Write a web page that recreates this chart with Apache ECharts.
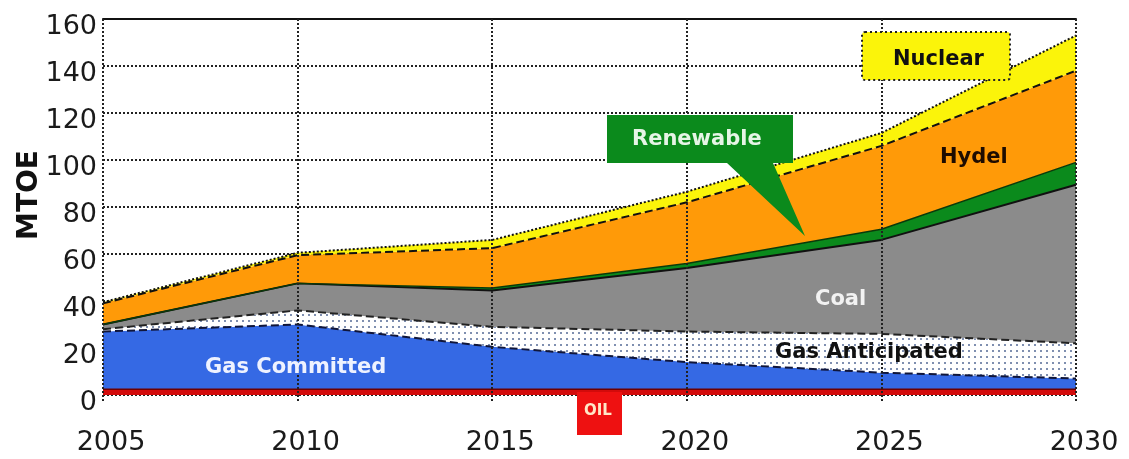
<!DOCTYPE html>
<html>
<head>
<meta charset="utf-8">
<script src="https://cdn.jsdelivr.net/npm/echarts@6/dist/echarts.min.js"></script>
<style>
  html, body { margin: 0; padding: 0; background: #fff; }
  #chart { width: 1129px; height: 459px; }
</style>
</head>
<body>
<div id="chart"></div>
<script>
// Primary energy supply projection, MTOE, stacked by source
const years = ['2005', '2010', '2015', '2020', '2025', '2030'];
const oil            = [2.5, 2.5, 2.5, 2.5, 2.5, 2.5];
const gasCommitted   = [24.5, 27.5, 18, 11.5, 7, 4.5];
const gasAnticipated = [1, 6, 8.5, 13, 16.5, 15];
const coal           = [2, 11.5, 15.5, 27, 40, 67.5];
const renewable      = [0, 0, 1, 2, 4.5, 9.5];
const hydel          = [9, 12, 17, 26, 35.5, 39];
const nuclear        = [0.5, 1, 3.5, 4.5, 5.5, 15];
const yTicks = { min: 0, max: 160, interval: 20 };

// dotted fill for the anticipated gas band
function dotPattern() {
  const c = document.createElement('canvas');
  c.width = 6; c.height = 6;
  const g = c.getContext('2d');
  g.fillStyle = '#ffffff';
  g.fillRect(0, 0, 6, 6);
  g.fillStyle = '#7f8fb0';
  g.fillRect(2, 2, 2, 2);
  return c;
}

const chart = echarts.init(document.getElementById('chart'), null, { renderer: 'canvas' });

function layer(name, data, fill, line) {
  return {
    name: name,
    type: 'line',
    stack: 'total',
    data: data,
    symbol: 'none',
    smooth: false,
    lineStyle: line,
    areaStyle: { color: fill, opacity: 1 },
    emphasis: { disabled: true }
  };
}

const tickFont = { fontFamily: 'DejaVu Sans', fontSize: 27, color: '#1a1a1a' };
const tagFont = 'bold 21px "DejaVu Sans"';

chart.setOption({
  animation: false,
  backgroundColor: '#ffffff',
  grid: { left: 103, right: 53, top: 19, bottom: 64 },
  xAxis: [{
    type: 'category',
    data: years,
    boundaryGap: false,
    axisLine: { show: false },
    axisTick: { show: true, length: 8, lineStyle: { color: '#222', type: 'dotted', width: 2 } },
    axisLabel: Object.assign({ margin: 34, padding: [0, 0, 0, 16] }, tickFont),
    splitLine: { show: true, lineStyle: { color: '#222', type: 'dotted', width: 2 } },
    z: 5
  }, {
    type: 'category',
    data: years,
    position: 'top',
    boundaryGap: false,
    axisLine: { show: true, lineStyle: { color: '#111', width: 2 } },
    axisTick: { show: false },
    axisLabel: { show: false },
    splitLine: { show: false }
  }],
  yAxis: {
    type: 'value',
    min: yTicks.min,
    max: yTicks.max,
    interval: yTicks.interval,
    axisLine: { show: false },
    axisTick: { show: false },
    axisLabel: Object.assign({ margin: 6, verticalAlign: 'top', lineHeight: 16 }, tickFont),
    splitLine: { show: true, lineStyle: { color: '#222', type: 'dotted', width: 2 } }
  },
  series: [
    layer('Oil', oil, '#d30b0b', { color: '#6e0000', width: 1.5 }),
    layer('Gas Committed', gasCommitted, '#3569e4', { color: '#10163a', width: 2, type: 'dashed' }),
    layer('Gas Anticipated', gasAnticipated, { image: dotPattern(), repeat: 'repeat' }, { color: '#222', width: 2, type: 'dashed' }),
    layer('Coal', coal, '#8b8b8b', { color: '#111', width: 2 }),
    layer('Renewable', renewable, '#0b8a1c', { color: '#0a3a0a', width: 1.5 }),
    layer('Hydel', hydel, '#ff9a08', { color: '#111', width: 2, type: 'dashed' }),
    layer('Nuclear', nuclear, '#fbf40a', { color: '#111', width: 2, type: 'dotted' })
  ],
  graphic: [
    { type: 'text', x: 30, y: 195, rotation: Math.PI / 2, z: 50,
      style: { text: 'MTOE', font: 'bold 28px "DejaVu Sans"', fill: '#111', align: 'center', verticalAlign: 'middle' } },
    { type: 'text', left: 205, top: 357, z: 50,
      style: { text: 'Gas Committed', font: tagFont, fill: '#eef2ff' } },
    { type: 'text', left: 775, top: 342, z: 50,
      style: { text: 'Gas Anticipated', font: tagFont, fill: '#111' } },
    { type: 'text', left: 815, top: 289, z: 50,
      style: { text: 'Coal', font: tagFont, fill: '#f2f2f2' } },
    { type: 'text', left: 940, top: 147, z: 50,
      style: { text: 'Hydel', font: tagFont, fill: '#1e0c00' } },
    { type: 'rect', z: 50,
      shape: { x: 862, y: 32, width: 148, height: 48, r: 3 },
      style: { fill: '#fbf40a', stroke: '#222', lineWidth: 2, lineDash: [2, 3] } },
    { type: 'text', left: 893, top: 49, z: 51,
      style: { text: 'Nuclear', font: tagFont, fill: '#111' } },
    { type: 'polygon', z: 50,
      shape: { points: [[607, 115], [793, 115], [793, 163], [773, 163], [805, 236], [727, 163], [607, 163]] },
      style: { fill: '#0b8a1c' } },
    { type: 'text', left: 632, top: 129, z: 51,
      style: { text: 'Renewable', font: tagFont, fill: '#e6f5e6' } },
    { type: 'rect', z: 50,
      shape: { x: 577, y: 392, width: 45, height: 43 },
      style: { fill: '#ee1111' } },
    { type: 'text', left: 584, top: 404, z: 51,
      style: { text: 'OIL', font: 'bold 15px "DejaVu Sans"', fill: '#ffe8c8' } }
  ]
});
</script>
</body>
</html>
